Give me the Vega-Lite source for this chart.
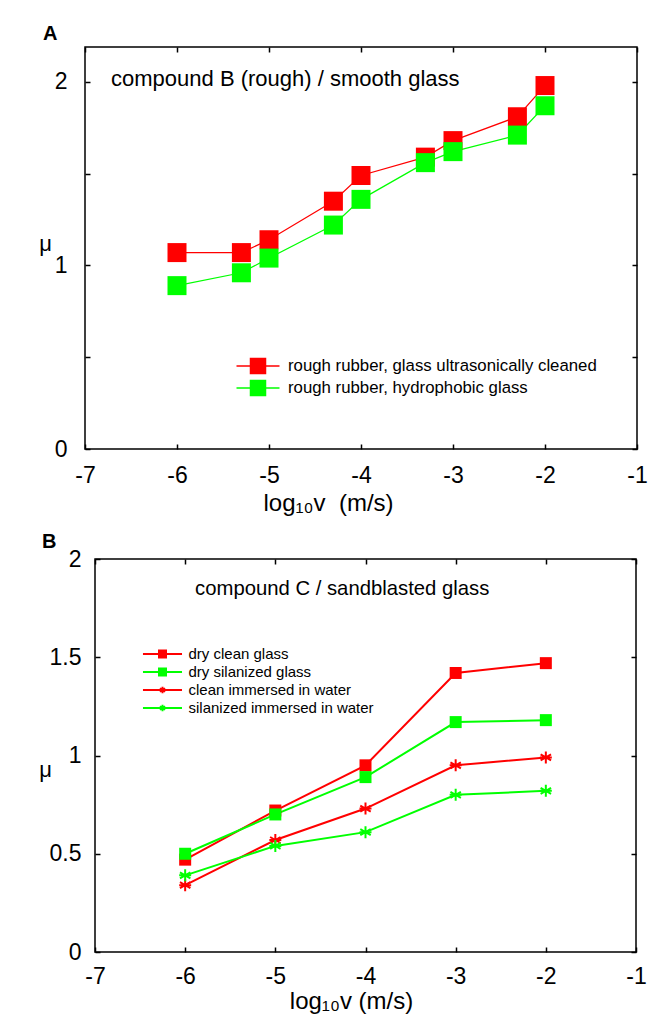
{
  "$schema": "https://vega.github.io/schema/vega-lite/v6.json",
  "padding": {"left": 37, "top": 23, "right": 0, "bottom": 0},
  "background": "#ffffff",
  "spacing": 15,
  "resolve": {"scale": {"color": "independent", "shape": "independent", "x": "independent", "y": "independent"}},
  "config": {
    "font": "Liberation Sans",
    "view": {"stroke": "#000000", "strokeWidth": 1.5},
    "axis": {
      "grid": false, "domain": false, "tickColor": "#000000", "tickSize": -5, "tickWidth": 1.5,
      "labelColor": "#000000", "labelFontSize": 23, "labelFont": "Liberation Sans",
      "labelFlush": false, "labelOverlap": false, "labelBound": false, "minExtent": 0,
      "titleColor": "#000000", "titleFontWeight": "normal", "titleFont": "Liberation Sans"
    }
  },
  "vconcat": [
    {"hconcat": [
    {
      "width": 552,
      "height": 402,
      "title": {"text": "A", "anchor": "start", "frame": "group", "dx": -42, "fontSize": 20, "fontWeight": "bold", "offset": -14, "baseline": "alphabetic", "color": "#000000", "font": "Liberation Sans"},
      "data": {"values": [
        {"series": "rough rubber, glass ultrasonically cleaned", "logv": -6, "mu": 1.07},
        {"series": "rough rubber, glass ultrasonically cleaned", "logv": -5.3, "mu": 1.07},
        {"series": "rough rubber, glass ultrasonically cleaned", "logv": -5, "mu": 1.14},
        {"series": "rough rubber, glass ultrasonically cleaned", "logv": -4.3, "mu": 1.35},
        {"series": "rough rubber, glass ultrasonically cleaned", "logv": -4, "mu": 1.49},
        {"series": "rough rubber, glass ultrasonically cleaned", "logv": -3.3, "mu": 1.59},
        {"series": "rough rubber, glass ultrasonically cleaned", "logv": -3, "mu": 1.68},
        {"series": "rough rubber, glass ultrasonically cleaned", "logv": -2.3, "mu": 1.81},
        {"series": "rough rubber, glass ultrasonically cleaned", "logv": -2, "mu": 1.98},
        {"series": "rough rubber, hydrophobic glass", "logv": -6, "mu": 0.89},
        {"series": "rough rubber, hydrophobic glass", "logv": -5.3, "mu": 0.96},
        {"series": "rough rubber, hydrophobic glass", "logv": -5, "mu": 1.04},
        {"series": "rough rubber, hydrophobic glass", "logv": -4.3, "mu": 1.22},
        {"series": "rough rubber, hydrophobic glass", "logv": -4, "mu": 1.36},
        {"series": "rough rubber, hydrophobic glass", "logv": -3.3, "mu": 1.56},
        {"series": "rough rubber, hydrophobic glass", "logv": -3, "mu": 1.62},
        {"series": "rough rubber, hydrophobic glass", "logv": -2.3, "mu": 1.71},
        {"series": "rough rubber, hydrophobic glass", "logv": -2, "mu": 1.87}
      ]},
      "layer": [
        {
          "mark": {"type": "line", "strokeWidth": 1.2},
          "encoding": {
            "x": {"field": "logv", "type": "quantitative", "scale": {"domain": [-7, -1], "nice": false, "zero": false},
              "axis": {"orient": "bottom", "values": [-7, -6, -5, -4, -3, -2, -1], "labelExpr": "datum.value + ''", "labelPadding": 20,
                "title": "log₁₀v\u00a0\u00a0(m/s)", "titleFontSize": 24, "titleX": 243, "titleY": 54, "titleAlign": "center", "titleBaseline": "middle"}},
            "y": {"field": "mu", "type": "quantitative", "scale": {"domain": [0, 2.19], "nice": false},
              "axis": {"orient": "left", "values": [0, 0.5, 1, 1.5, 2], "labelExpr": "datum.value % 1 === 0 ? datum.value + '' : ''", "labelPadding": 23,
                "title": "μ", "titleAngle": 0, "titleX": -40, "titleY": 196, "titleAlign": "center", "titleBaseline": "middle", "titleFontSize": 22}},
            "color": {"field": "series", "type": "nominal",
              "scale": {"domain": ["rough rubber, glass ultrasonically cleaned", "rough rubber, hydrophobic glass"], "range": ["#ff0000", "#00ff00"]},
              "legend": {"orient": "none", "legendX": 162, "legendY": 308, "title": null,
                "labelFontSize": 16.8, "labelFont": "Liberation Sans", "labelColor": "#000000", "labelLimit": 0,
                "symbolSize": 400, "labelOffset": 19, "rowPadding": -6,
                "encode": {"symbols": {"update": {
                  "shape": {"value": "M-2.15,0H2.15M-0.75,-0.75H0.75V0.75H-0.75Z"},
                  "size": {"value": 400},
                  "strokeWidth": {"value": 1.5},
                  "opacity": {"value": 1},
                  "fill": {"signal": "datum.value === 'rough rubber, glass ultrasonically cleaned' ? '#ff0000' : '#00ff00'"},
                  "stroke": {"signal": "datum.value === 'rough rubber, glass ultrasonically cleaned' ? '#ff0000' : '#00ff00'"}
                }}}}}
          }
        },
        {
          "mark": {"type": "point", "shape": "square", "filled": true, "size": 361, "opacity": 1},
          "encoding": {
            "x": {"field": "logv", "type": "quantitative", "axis": {"orient": "top", "values": [-7, -6, -5, -4, -3, -2, -1], "labels": false, "title": null, "minExtent": 0, "maxExtent": 0}},
            "y": {"field": "mu", "type": "quantitative", "axis": {"orient": "right", "values": [0, 0.5, 1, 1.5, 2], "labels": false, "title": null, "minExtent": 0, "maxExtent": 0}},
            "color": {"field": "series", "type": "nominal"}
          }
        },
        {
          "data": {"values": [{}]},
          "mark": {"type": "text", "text": "compound B (rough) / smooth glass", "align": "left", "baseline": "middle", "fontSize": 22, "font": "Liberation Sans", "color": "#000000"},
          "encoding": {
            "x": {"datum": -6.717, "type": "quantitative", "axis": null},
            "y": {"datum": 2.016, "type": "quantitative", "axis": null}
          }
        }
      ]
    }]},
    {"hconcat": [
    {
      "width": 1,
      "height": 1,
      "view": {"stroke": null},
      "data": {"values": [{}]},
      "mark": {"type": "text", "text": ""}
    },
    {
      "width": 541,
      "height": 393,
      "title": {"text": "B", "anchor": "start", "frame": "group", "dx": -53, "fontSize": 20, "fontWeight": "bold", "offset": -20, "baseline": "alphabetic", "color": "#000000", "font": "Liberation Sans"},
      "data": {"values": [
        {"series": "dry clean glass", "logv": -6, "mu": 0.47},
        {"series": "dry clean glass", "logv": -5, "mu": 0.72},
        {"series": "dry clean glass", "logv": -4, "mu": 0.95},
        {"series": "dry clean glass", "logv": -3, "mu": 1.42},
        {"series": "dry clean glass", "logv": -2, "mu": 1.47},
        {"series": "dry silanized glass", "logv": -6, "mu": 0.50},
        {"series": "dry silanized glass", "logv": -5, "mu": 0.70},
        {"series": "dry silanized glass", "logv": -4, "mu": 0.89},
        {"series": "dry silanized glass", "logv": -3, "mu": 1.17},
        {"series": "dry silanized glass", "logv": -2, "mu": 1.18},
        {"series": "clean immersed in water", "logv": -6, "mu": 0.34},
        {"series": "clean immersed in water", "logv": -5, "mu": 0.57},
        {"series": "clean immersed in water", "logv": -4, "mu": 0.73},
        {"series": "clean immersed in water", "logv": -3, "mu": 0.95},
        {"series": "clean immersed in water", "logv": -2, "mu": 0.99},
        {"series": "silanized immersed in water", "logv": -6, "mu": 0.39},
        {"series": "silanized immersed in water", "logv": -5, "mu": 0.54},
        {"series": "silanized immersed in water", "logv": -4, "mu": 0.61},
        {"series": "silanized immersed in water", "logv": -3, "mu": 0.80},
        {"series": "silanized immersed in water", "logv": -2, "mu": 0.82}
      ]},
      "layer": [
        {
          "mark": {"type": "line", "strokeWidth": 2},
          "encoding": {
            "x": {"field": "logv", "type": "quantitative", "scale": {"domain": [-7, -1], "nice": false, "zero": false},
              "axis": {"orient": "bottom", "values": [-7, -6, -5, -4, -3, -2, -1], "labelExpr": "datum.value + ''", "labelPadding": 18,
                "title": "log₁₀v (m/s)", "titleFontSize": 24, "titleX": 256, "titleY": 49, "titleAlign": "center", "titleBaseline": "middle"}},
            "y": {"field": "mu", "type": "quantitative", "scale": {"domain": [0, 2], "nice": false},
              "axis": {"orient": "left", "values": [0, 0.5, 1, 1.5, 2], "labelExpr": "datum.value + ''", "labelPadding": 19, "labelBaseline": "middle",
                "title": "μ", "titleAngle": 0, "titleX": -50, "titleY": 210, "titleAlign": "center", "titleBaseline": "middle", "titleFontSize": 22}},
            "color": {"field": "series", "type": "nominal",
              "scale": {"domain": ["dry clean glass", "dry silanized glass", "clean immersed in water", "silanized immersed in water"], "range": ["#ff0000", "#00ff00", "#ff0000", "#00ff00"]},
              "legend": {"orient": "none", "legendX": 67.5, "legendY": 85, "title": null,
                "labelFontSize": 15, "labelFont": "Liberation Sans", "labelColor": "#000000", "labelLimit": 0,
                "symbolSize": 324, "labelOffset": 16, "rowPadding": -1,
                "encode": {"symbols": {"update": {
                  "shape": {"signal": "indexof(['dry clean glass', 'dry silanized glass'], datum.value) >= 0 ? 'M-2.17,0H2.17M-0.39,-0.39H0.39V0.39H-0.39Z' : 'M-2.17,0H2.17M0,-0.35V0.35M-0.3,-0.18L0.3,0.18M-0.3,0.18L0.3,-0.18'"},
                  "size": {"value": 324},
                  "strokeWidth": {"value": 2},
                  "opacity": {"value": 1},
                  "fill": {"signal": "indexof(['dry clean glass', 'clean immersed in water'], datum.value) >= 0 ? '#ff0000' : '#00ff00'"},
                  "stroke": {"signal": "indexof(['dry clean glass', 'clean immersed in water'], datum.value) >= 0 ? '#ff0000' : '#00ff00'"}
                }}}}}
          }
        },
        {
          "transform": [{"filter": "datum.series === 'dry clean glass' || datum.series === 'dry silanized glass'"}],
          "mark": {"type": "point", "shape": "square", "filled": true, "size": 144, "opacity": 1},
          "encoding": {
            "x": {"field": "logv", "type": "quantitative", "axis": {"orient": "top", "values": [-7, -6, -5, -4, -3, -2, -1], "labels": false, "title": null, "minExtent": 0, "maxExtent": 0}},
            "y": {"field": "mu", "type": "quantitative", "axis": {"orient": "right", "values": [0, 0.5, 1, 1.5, 2], "labels": false, "title": null, "minExtent": 0, "maxExtent": 0}},
            "color": {"field": "series", "type": "nominal"}
          }
        },
        {
          "transform": [{"filter": "datum.series === 'clean immersed in water' || datum.series === 'silanized immersed in water'"}],
          "mark": {"type": "point", "shape": "M0,-1V1M-0.87,-0.5L0.87,0.5M-0.87,0.5L0.87,-0.5M-1,0H1", "filled": false, "size": 144, "strokeWidth": 2, "opacity": 1},
          "encoding": {
            "x": {"field": "logv", "type": "quantitative", "axis": null},
            "y": {"field": "mu", "type": "quantitative", "axis": null},
            "color": {"field": "series", "type": "nominal"}
          }
        },
        {
          "data": {"values": [{}]},
          "mark": {"type": "text", "text": "compound C / sandblasted glass", "align": "left", "baseline": "middle", "fontSize": 20.3, "font": "Liberation Sans", "color": "#000000"},
          "encoding": {
            "x": {"datum": -5.89, "type": "quantitative", "axis": null},
            "y": {"datum": 1.847, "type": "quantitative", "axis": null}
          }
        }
      ]
    }], "spacing": 9, "bounds": "flush"}
  ]
}
